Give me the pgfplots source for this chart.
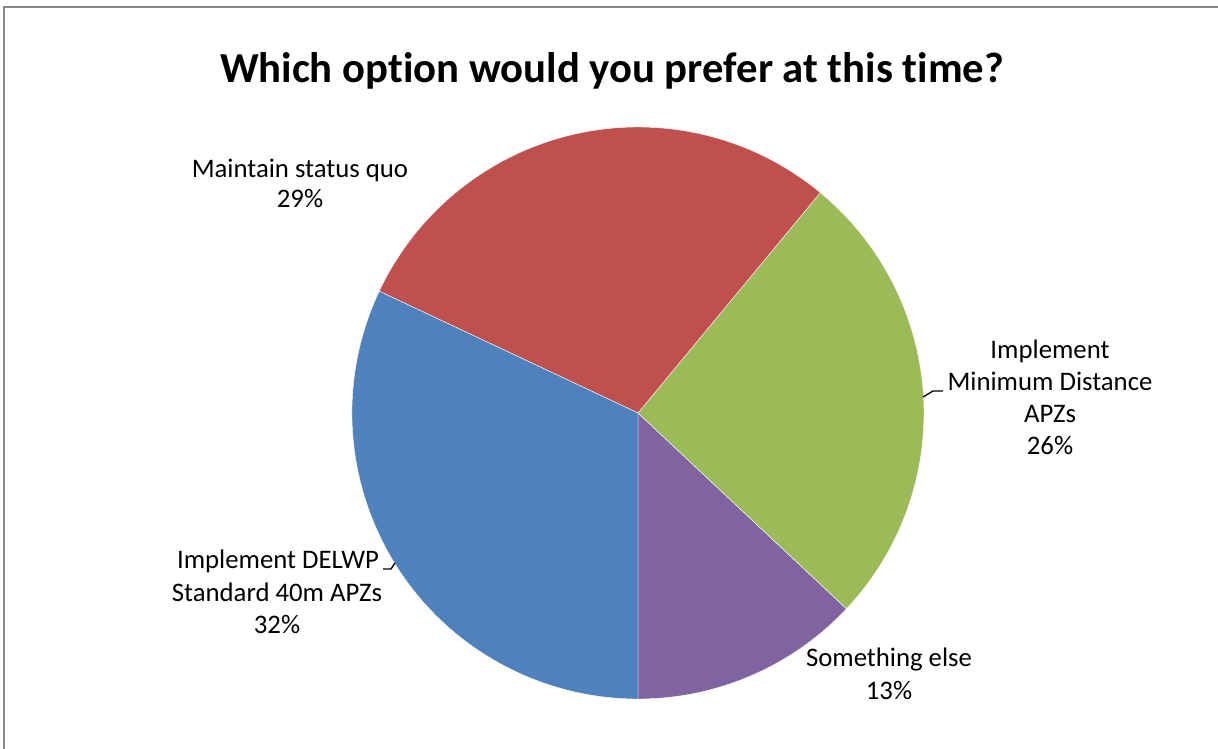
\documentclass[border=0pt]{standalone}
\usepackage{fontspec}
\setmainfont{Carlito}[Ligatures={NoCommon}]
\usepackage{pgfplots}
\pgfplotsset{compat=1.18}
\definecolor{cblue}{HTML}{4F81BD}
\definecolor{cred}{HTML}{C0504D}
\definecolor{cgreen}{HTML}{9BBB59}
\definecolor{cpurple}{HTML}{8064A2}
\definecolor{bordergray}{HTML}{868686}
\begin{document}
\begin{tikzpicture}[x=1bp,y=1bp]
\useasboundingbox (0,0) rectangle (1218,749);
\fill[white] (0,0) rectangle (1218,749);
\draw[line width=1.5bp, color=bordergray] (4,0) -- (4,742) -- (1218,742);
% data (percent), counterclockwise from the bottom
\def\pPurple{13}
\def\pGreen{26}
\def\pRed{29}
\def\pBlue{32}
\def\R{286}
\pgfmathsetmacro{\aA}{-90}
\pgfmathsetmacro{\aB}{\aA+3.6*\pPurple}
\pgfmathsetmacro{\aC}{\aB+3.6*\pGreen}
\pgfmathsetmacro{\aD}{\aC+3.6*\pRed}
\pgfmathsetmacro{\aE}{\aD+3.6*\pBlue}
\pgfmathsetmacro{\xA}{\R*cos(\aA)}\pgfmathsetmacro{\yA}{\R*sin(\aA)}
\pgfmathsetmacro{\xB}{\R*cos(\aB)}\pgfmathsetmacro{\yB}{\R*sin(\aB)}
\pgfmathsetmacro{\xC}{\R*cos(\aC)}\pgfmathsetmacro{\yC}{\R*sin(\aC)}
\pgfmathsetmacro{\xD}{\R*cos(\aD)}\pgfmathsetmacro{\yD}{\R*sin(\aD)}
\begin{axis}[at={(638bp,336bp)}, anchor=origin, x=1bp, y=1bp,
  xmin=-290, xmax=290, ymin=-290, ymax=290, hide axis, clip=false]
\addplot[fill=cpurple, draw=white, line width=0.4bp] coordinates {(0,0) (\xA,\yA)} arc[start angle=\aA, end angle=\aB, radius=\R bp] -- cycle;
\addplot[fill=cgreen, draw=white, line width=0.4bp] coordinates {(0,0) (\xB,\yB)} arc[start angle=\aB, end angle=\aC, radius=\R bp] -- cycle;
\addplot[fill=cred, draw=white, line width=0.4bp] coordinates {(0,0) (\xC,\yC)} arc[start angle=\aC, end angle=\aD, radius=\R bp] -- cycle;
\addplot[fill=cblue, draw=white, line width=0.4bp] coordinates {(0,0) (\xD,\yD)} arc[start angle=\aD, end angle=\aE, radius=\R bp] -- cycle;
\end{axis}
% title
\node[anchor=base, inner sep=0pt, font=\fontsize{42.7bp}{50bp}\selectfont\bfseries] at (612,666) {Which option would you prefer at this time?};
% labels
\tikzset{lbl/.style={anchor=base, inner sep=0pt, font=\fontsize{26.75bp}{32bp}\selectfont}}
\node[lbl] at (300,571) {Maintain status quo};
\node[lbl] at (300,541) {29\%};
\node[lbl] at (1050,390) {Implement};
\node[lbl] at (1050,358) {Minimum Distance};
\node[lbl] at (1050,326) {APZs};
\node[lbl] at (1050,294) {26\%};
\node[lbl] at (278,180) {Implement DELWP};
\node[lbl] at (277,147) {Standard 40m APZs};
\node[lbl] at (277,115) {32\%};
\node[lbl] at (889,82) {Something else};
\node[lbl] at (889,49) {13\%};
% leader lines
\draw[line width=1.3bp] (923,352) -- (933,358) -- (943,358);
\draw[line width=1.3bp] (383,180) -- (391,180) -- (395,186);
\end{tikzpicture}
\end{document}
